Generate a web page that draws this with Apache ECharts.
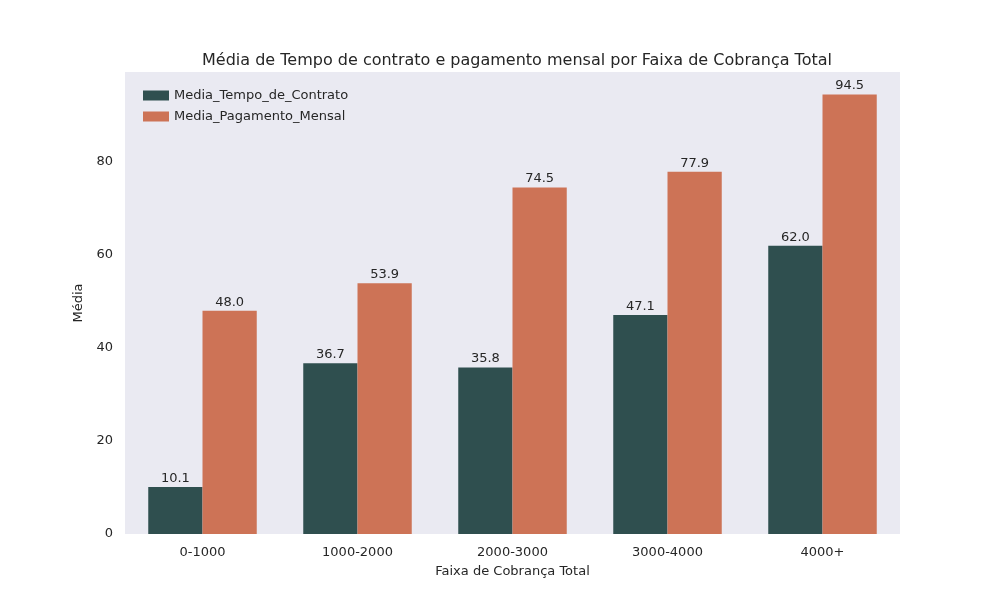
<!DOCTYPE html>
<html>
<head>
<meta charset="utf-8">
<script src="https://cdn.jsdelivr.net/npm/echarts@6/dist/echarts.min.js"></script>
<style>html,body{margin:0;padding:0;background:#fff;}</style>
</head>
<body>
<div id="chart" style="width:1000px;height:600px;"></div>
<script>
var categories = ['0-1000', '1000-2000', '2000-3000', '3000-4000', '4000+'];
var tempoContrato = [10.1, 36.7, 35.8, 47.1, 62.0];
var pagamentoMensal = [48.0, 53.9, 74.5, 77.9, 94.5];
var yTicks = [0, 20, 40, 60, 80];

var font = 'DejaVu Sans';
var myChart = echarts.init(document.getElementById('chart'), null, {renderer: 'canvas'});

function barLabel() {
    return {
        show: true, position: 'top', distance: 2, color: '#262626',
        fontFamily: font, fontSize: 13,
        formatter: function(p) { return p.value.toFixed(1); }
    };
}

myChart.setOption({
    animation: false,
    textStyle: {fontFamily: font},
    title: {
        text: 'Média de Tempo de contrato e pagamento mensal por Faixa de Cobrança Total',
        left: 512, top: 48, textAlign: 'center',
        textStyle: {fontFamily: font, fontSize: 16, fontWeight: 'normal', color: '#262626'}
    },
    legend: {
        left: 138, top: 84, orient: 'vertical', itemGap: 8,
        itemWidth: 26, itemHeight: 10, icon: 'rect',
        textStyle: {fontFamily: font, fontSize: 13, color: '#262626'}
    },
    grid: {left: 125, right: 100, top: 72, bottom: 66, show: true, backgroundColor: '#eaeaf2', borderWidth: 0},
    xAxis: {
        type: 'category', data: categories,
        name: 'Faixa de Cobrança Total', nameLocation: 'middle', nameGap: 31,
        nameTextStyle: {fontFamily: font, fontSize: 13, color: '#262626'},
        axisLine: {show: false}, axisTick: {show: false},
        axisLabel: {fontFamily: font, fontSize: 13, color: '#262626', margin: 12}
    },
    yAxis: {
        type: 'value', min: 0, max: 99.35, interval: 20,
        name: 'Média', nameLocation: 'middle', nameGap: 34,
        nameTextStyle: {fontFamily: font, fontSize: 13, color: '#262626'},
        splitLine: {show: false}, axisLine: {show: false}, axisTick: {show: false},
        axisLabel: {fontFamily: font, fontSize: 13, color: '#262626', margin: 12,
            formatter: function(v) { return yTicks.indexOf(v) >= 0 ? v : ''; }}
    },
    series: [
        {name: 'Media_Tempo_de_Contrato', type: 'bar', data: tempoContrato,
         barGap: '0%', barCategoryGap: '30%', itemStyle: {color: '#2f4f4f'}, label: barLabel()},
        {name: 'Media_Pagamento_Mensal', type: 'bar', data: pagamentoMensal,
         itemStyle: {color: '#cd7356'}, label: barLabel()}
    ]
});
</script>
</body>
</html>
